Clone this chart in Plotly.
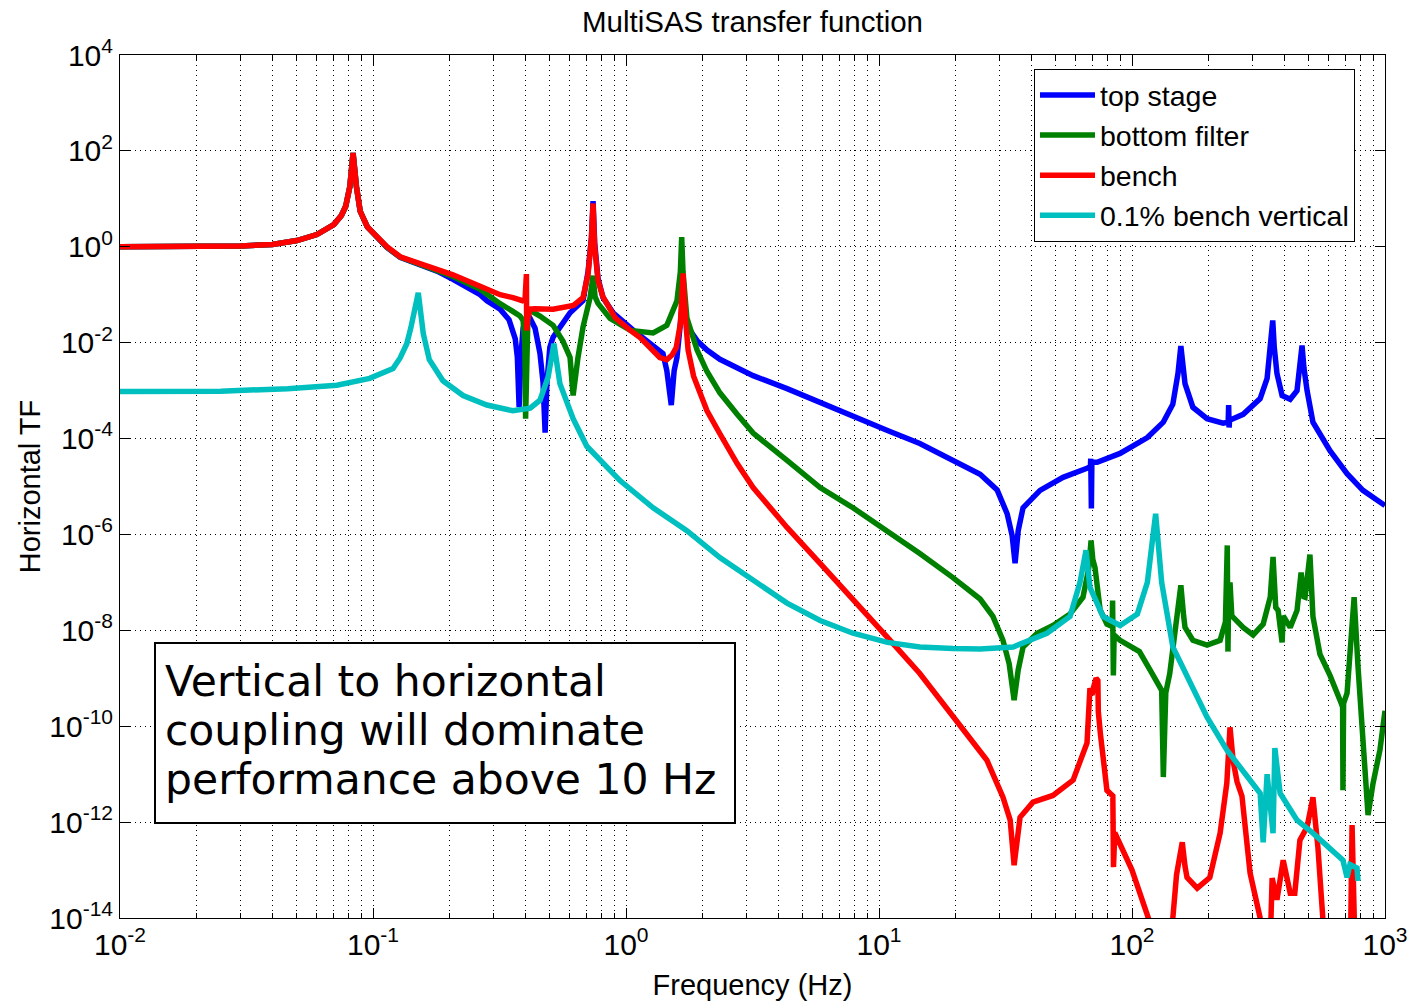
import plotly.graph_objects as go

# ---------------- data ----------------
f_top = [0.01, 0.02, 0.03, 0.04, 0.05, 0.06, 0.065, 0.07, 0.075, 0.078,
         0.081, 0.0834, 0.086, 0.089, 0.095, 0.1, 0.1135, 0.128, 0.153, 0.179,
         0.207, 0.265, 0.282, 0.318, 0.345, 0.365, 0.372, 0.378, 0.384, 0.392,
         0.40, 0.418, 0.437, 0.457, 0.47, 0.479, 0.487, 0.50, 0.515, 0.548,
         0.563, 0.601, 0.676, 0.708, 0.73, 0.741, 0.752, 0.775, 0.811, 0.889,
         1.07, 1.24, 1.40, 1.45, 1.51, 1.55, 1.59, 1.63, 1.68, 1.72,
         1.79, 1.91, 2.09, 2.35, 3.18, 4.33, 5.85, 7.89, 10.8, 14.5,
         19.6, 25.1, 29.3, 32.1, 33.6, 34.5, 35.5, 37.1, 43.3, 53.4,
         66.4, 68.5, 68.7, 69.1, 69.4, 72.8, 89.7, 115, 133, 145,
         152, 156, 162, 174, 198, 229, 240, 241, 242, 243,
         275, 321, 342, 355, 360, 365, 374, 392, 422, 449,
         462, 470, 478, 492, 519, 606, 708, 818, 1000]
top_stage = [1.0, 1.0, 1.04, 1.12, 1.35, 1.8, 2.3, 2.9, 4.5, 7.0,
             18, 90, 18, 5.5, 2.6, 2.0, 0.97, 0.6, 0.42, 0.31,
             0.21, 0.1, 0.075, 0.05, 0.03, 0.012, 0.005, 4.5e-4, 0.005, 0.02,
             0.03, 0.032, 0.02, 0.006, 0.0015, 1.33e-4, 0.0015, 0.008, 0.013, 0.02,
             0.026, 0.042, 0.075, 0.3, 1.5, 9.0, 1.2, 0.22, 0.087, 0.042,
             0.018, 0.0095, 0.0059, 0.0026, 5e-4, 0.0026, 0.0049, 0.018, 0.09, 0.03,
             0.018, 0.011, 0.007, 0.0045, 2.05e-3, 1.1e-3, 5.6e-4, 3.0e-4, 1.47e-4, 7.9e-5,
             3.5e-5, 1.8e-5, 8.5e-6, 2.7e-6, 9.4e-7, 2.5e-7, 1.2e-6, 3.6e-6, 8.3e-6, 1.55e-5,
             2.4e-5, 2.6e-5, 3.8e-5, 3.5e-6, 3.2e-5, 3.2e-5, 4.9e-5, 1.05e-4, 2.2e-4, 5.2e-4,
             2.3e-3, 8.5e-3, 1.4e-3, 4.5e-4, 2.6e-4, 2.1e-4, 2.2e-4, 5e-4, 1.7e-4, 2.4e-4,
             3.2e-4, 6.8e-4, 1.8e-3, 0.01, 0.029, 0.008, 2.3e-3, 7.9e-4, 6.6e-4, 1.0e-3,
             3e-3, 8.7e-3, 3e-3, 1.0e-3, 2.2e-4, 5.6e-5, 1.85e-5, 8.3e-6, 4.0e-6]

f_bottom = [0.01, 0.02, 0.03, 0.04, 0.05, 0.06, 0.065, 0.07, 0.075, 0.078,
            0.081, 0.0834, 0.086, 0.089, 0.095, 0.1, 0.1135, 0.128, 0.153, 0.179,
            0.207, 0.265, 0.282, 0.318, 0.357, 0.381, 0.392, 0.398, 0.401, 0.404,
            0.41, 0.418, 0.457, 0.515, 0.563, 0.601, 0.618, 0.646, 0.676, 0.721,
            0.741, 0.755, 0.775, 0.865, 1.04, 1.28, 1.45, 1.59, 1.64, 1.66,
            1.68, 1.74, 1.91, 2.09, 2.35, 2.75, 3.18, 4.33, 5.85, 7.89,
            10.8, 14.5, 19.6, 25.1, 28.2, 30.9, 32.7, 34.2, 35.5, 37.1,
            42.2, 48.7, 56.9, 64.0, 67.5, 68.9, 70.0, 71.4, 74.8, 79.6,
            83.5, 83.8, 84.4, 85.0, 89.7, 107, 120, 131, 133, 136,
            141, 148, 153, 156, 160, 162, 174, 198, 223, 234,
            238, 239.5, 241, 244, 248, 275, 301, 330, 352, 361,
            370, 378, 392, 396, 422, 449, 466, 478, 483, 505,
            519, 553, 606, 664, 680, 682, 686, 708, 727, 755,
            782, 818, 857, 897, 955, 1000]
bottom_filter = [1.0, 1.0, 1.04, 1.12, 1.35, 1.8, 2.3, 2.9, 4.5, 7.0,
                 18, 90, 18, 5.5, 2.6, 2.0, 0.98, 0.61, 0.43, 0.32,
                 0.24, 0.13, 0.1, 0.065, 0.045, 0.036, 0.029, 0.01, 2.6e-4, 0.01,
                 0.045, 0.047, 0.036, 0.023, 0.0108, 0.0049, 7.9e-4, 0.0049, 0.021, 0.087,
                 0.25, 0.09, 0.066, 0.032, 0.018, 0.016, 0.023, 0.075, 0.3, 1.6,
                 0.3, 0.033, 0.007, 2.5e-3, 9e-4, 3.2e-4, 1.3e-4, 3.5e-5, 9.5e-6, 3.6e-6,
                 1.2e-6, 4e-7, 1.26e-7, 4.5e-8, 1.95e-8, 6.2e-9, 2e-9, 3.5e-10, 1.5e-9, 4.5e-9,
                 8.7e-9, 1.26e-8, 2.2e-8, 4.9e-8, 2e-7, 7.5e-7, 3e-7, 2.05e-7, 2.7e-8, 1.35e-8,
                 1.2e-8, 4.2e-8, 1.15e-9, 8e-9, 6.2e-9, 3.6e-9, 1.26e-9, 5.6e-10, 8.7e-12, 5e-10,
                 1.26e-9, 8.7e-9, 3e-8, 8.7e-8, 2e-8, 1.15e-8, 6.2e-9, 4.9e-9, 6.2e-9, 1.5e-8,
                 5.9e-7, 3.6e-9, 5e-8, 1e-7, 2e-8, 1.15e-8, 8e-9, 1.35e-8, 5e-8, 3.4e-7,
                 3e-8, 2.6e-8, 5.6e-9, 2e-8, 1.15e-8, 2.6e-8, 1.6e-7, 5e-8, 4.9e-8, 3.8e-7,
                 1.95e-8, 3.2e-9, 1.15e-9, 3.5e-10, 2.5e-10, 4.6e-12, 3e-10, 4.9e-10, 3.6e-9, 4.9e-8,
                 1.8e-9, 7e-11, 1.4e-12, 6.5e-12, 3.2e-11, 2.1e-10]

f_bench = [0.01, 0.02, 0.03, 0.04, 0.05, 0.06, 0.065, 0.07, 0.075, 0.078,
           0.081, 0.0834, 0.086, 0.089, 0.095, 0.1, 0.1135, 0.128, 0.153, 0.179,
           0.207, 0.265, 0.318, 0.357, 0.39, 0.399, 0.401, 0.404, 0.405, 0.408,
           0.418, 0.437, 0.515, 0.548, 0.62, 0.676, 0.708, 0.73, 0.741, 0.752,
           0.775, 0.811, 0.906, 1.04, 1.14, 1.36, 1.45, 1.52, 1.58, 1.64,
           1.68, 1.72, 1.76, 1.85, 1.95, 2.09, 2.35, 2.75, 3.18, 4.33,
           5.85, 7.89, 10.8, 14.5, 19.6, 26.7, 30.9, 33.0, 34.2, 36.1,
           40.6, 48.7, 58.5, 66.4, 68.2, 69.5, 70.5, 72.1, 73.3, 73.6,
           75.0, 79.6, 84.0, 84.5, 85.5, 88.1, 100, 115, 125, 140,
           145, 150, 154, 158, 162, 165, 181, 203, 223, 237,
           244, 251, 260, 272, 293, 321, 330, 352, 358, 374,
           396, 422, 440, 461, 492, 519, 543, 564, 580, 720,
           733, 741, 748, 760, 1000]
bench = [1.0, 1.0, 1.04, 1.12, 1.35, 1.8, 2.3, 2.9, 4.5, 7.0,
         18, 90, 18, 5.5, 2.6, 2.0, 1.0, 0.62, 0.44, 0.33,
         0.26, 0.15, 0.1, 0.087, 0.075, 0.08, 0.27, 0.27, 0.018, 0.03,
         0.05, 0.051, 0.05, 0.053, 0.06, 0.087, 0.27, 1.5, 8.0, 1.0,
         0.2, 0.09, 0.033, 0.018, 0.0126, 0.0049, 0.0044, 0.0055, 0.0079, 0.025,
         0.28, 0.03, 0.007, 2.0e-3, 9e-4, 3.8e-4, 1.26e-4, 3.0e-5, 9.5e-6, 1.4e-6,
         2.5e-7, 4.2e-8, 7.1e-9, 1.26e-9, 1.55e-10, 1.95e-11, 3.3e-12, 1.1e-12, 1.26e-13, 1.26e-12,
         2.6e-12, 3.6e-12, 7.5e-12, 4.5e-11, 6.2e-10, 4.5e-10, 6.5e-10, 1.0e-9, 9e-10, 2e-10,
         7e-11, 4.6e-12, 3.5e-12, 1.15e-13, 6e-13, 4.2e-13, 1e-13, 1.15e-14, 3e-15, 3e-15,
         1e-14, 8e-14, 2e-13, 3.8e-13, 1.2e-13, 7e-14, 4.2e-14, 7e-14, 5.9e-13, 6.5e-12,
         9.5e-11, 1.9e-11, 7e-12, 3.5e-12, 8.6e-14, 1e-14, 3e-15, 3e-15, 6.8e-14, 2.4e-14,
         1.6e-13, 3.3e-14, 3.3e-14, 4.2e-13, 7.9e-13, 3.3e-12, 3e-13, 1e-14, 2e-15, 2e-15,
         1e-14, 8.7e-13, 5e-14, 3e-15, 1e-15]

f_vert = [0.01, 0.025, 0.046, 0.072, 0.097, 0.12, 0.128, 0.136, 0.141, 0.144,
          0.151, 0.158, 0.167, 0.189, 0.227, 0.282, 0.357, 0.418, 0.457, 0.492,
          0.519, 0.548, 0.618, 0.70, 0.947, 1.28, 1.74, 2.35, 3.18, 4.33,
          5.85, 7.89, 10.8, 14.5, 19.6, 25.1, 33.9, 46.1, 56.9, 62.3,
          65.8, 68.2, 76.8, 89.7, 105, 115, 124, 131, 145, 165,
          198, 237, 285, 321, 330, 342, 361, 367, 385, 449,
          519, 606, 682, 708, 727, 775, 782]
bench_vertical = [9.6e-4, 9.7e-4, 1.1e-3, 1.3e-3, 1.8e-3, 2.9e-3, 4.8e-3, 9.5e-3, 0.02, 0.033,
                  0.11, 0.0155, 4.4e-3, 1.6e-3, 7.9e-4, 5e-4, 3.8e-4, 4.3e-4, 6.3e-4, 1.9e-3,
                  9.5e-3, 1.4e-3, 2.6e-4, 6.9e-5, 1.33e-5, 3.6e-6, 1.2e-6, 3.3e-7, 1.1e-7, 3.7e-8,
                  1.6e-8, 8.7e-9, 5.6e-9, 4.5e-9, 4.2e-9, 4.1e-9, 4.5e-9, 8.7e-9, 1.95e-8, 1e-7,
                  4.7e-7, 7.9e-8, 1.95e-8, 1.26e-8, 2.2e-8, 1e-7, 2.7e-6, 1e-7, 4.5e-9, 1.15e-9,
                  1.55e-10, 3.2e-11, 8.7e-12, 4e-12, 3.8e-13, 1e-11, 5.9e-13, 3.5e-11, 4e-12, 1.1e-12,
                  5.9e-13, 2.7e-13, 1.6e-13, 7e-14, 1.3e-13, 1.1e-13, 5.9e-14]

series_names = ["top stage", "bottom filter", "bench", "0.1% bench vertical"]
series_colors = ["#0000FF", "#008000", "#FF0000", "#00BFBF"]

x_tick_vals = [1e-2, 1e-1, 1e0, 1e1, 1e2, 1e3]
x_tick_text = ["10<sup>-2</sup>", "10<sup>-1</sup>", "10<sup>0</sup>",
               "10<sup>1</sup>", "10<sup>2</sup>", "10<sup>3</sup>"]
y_tick_vals = [1e-14, 1e-12, 1e-10, 1e-8, 1e-6, 1e-4, 1e-2, 1e0, 1e2, 1e4]
y_tick_text = ["10<sup>-14</sup>", "10<sup>-12</sup>", "10<sup>-10</sup>", "10<sup>-8</sup>",
               "10<sup>-6</sup>", "10<sup>-4</sup>", "10<sup>-2</sup>", "10<sup>0</sup>",
               "10<sup>2</sup>", "10<sup>4</sup>"]
x_minor_vals = [m * d for d in x_tick_vals[:-1] for m in range(2, 10)]

note_lines = ["Vertical to horizontal", "coupling will dominate", "performance above 10 Hz"]

# ---------------- figure ----------------
FONT = "Liberation Sans, Arial, Helvetica, sans-serif"
GRID_DASH = "1px,4px"
fig = go.Figure()
for fx, fy, name, color in zip([f_top, f_bottom, f_bench, f_vert],
                               [top_stage, bottom_filter, bench, bench_vertical],
                               series_names, series_colors):
    fig.add_trace(go.Scatter(x=fx, y=fy, mode="lines", name=name,
                             line=dict(color=color, width=5.5)))

axis_common = dict(
    type="log", showline=True, linecolor="black", linewidth=1, mirror="allticks",
    ticks="inside", ticklen=10, tickcolor="black", tickwidth=1,
    showgrid=True, gridcolor="black", griddash=GRID_DASH, gridwidth=1,
    zeroline=False, tickfont=dict(family=FONT, size=30, color="black"),
    tickmode="array", ticklabeloverflow="allow",
)

PL, PR, PT, PB = 120, 1385, 55, 918   # plot area in pixels
PW, PH = PR - PL, PB - PT

fig.update_layout(
    width=1409, height=1003,
    margin=dict(l=PL, r=1409 - PR, t=PT, b=1003 - PB),
    paper_bgcolor="white", plot_bgcolor="white",
    font=dict(family=FONT, color="black"),
    title=dict(text="MultiSAS transfer function", x=0.5, xref="paper",
               y=1 - 22 / 1003, yanchor="middle", xanchor="center",
               font=dict(family=FONT, size=29.5, color="black")),
    xaxis=dict(axis_common, range=[-2, 3], tickvals=x_tick_vals, ticktext=x_tick_text,
               minor=dict(tickmode="array", tickvals=x_minor_vals, ticks="inside", ticklen=5,
                          tickcolor="black", showgrid=True, gridcolor="black",
                          griddash=GRID_DASH, gridwidth=1),
               title=dict(text="Frequency (Hz)", font=dict(family=FONT, size=29), standoff=14),
               automargin=False),
    yaxis=dict(axis_common, range=[-14, 4], tickvals=y_tick_vals, ticktext=y_tick_text,
               title=dict(text="Horizontal TF", font=dict(family=FONT, size=29), standoff=0),
               automargin=False),
    legend=dict(x=(1355 - PL) / PW, y=(PB - 69) / PH, xanchor="right", yanchor="top",
                bgcolor="white", bordercolor="black", borderwidth=1,
                font=dict(family=FONT, size=28.5, color="black"), itemwidth=55,
                tracegroupgap=0),
    showlegend=True,
)

# note box
fig.add_shape(type="rect", xref="paper", yref="paper",
              x0=(155 - PL) / PW, x1=(735 - PL) / PW,
              y0=(PB - 823) / PH, y1=(PB - 643) / PH,
              line=dict(color="black", width=2), fillcolor="white", layer="above")
for i, line_text in enumerate(note_lines):
    fig.add_annotation(
        xref="paper", yref="paper", x=(163 - PL) / PW, y=(PB - (681 + 49 * i)) / PH,
        xanchor="left", yanchor="middle", showarrow=False, align="left",
        text=line_text,
        font=dict(family="DejaVu Sans, Verdana, sans-serif", size=42.5, color="black"),
    )

fig.write_html("out.html")
